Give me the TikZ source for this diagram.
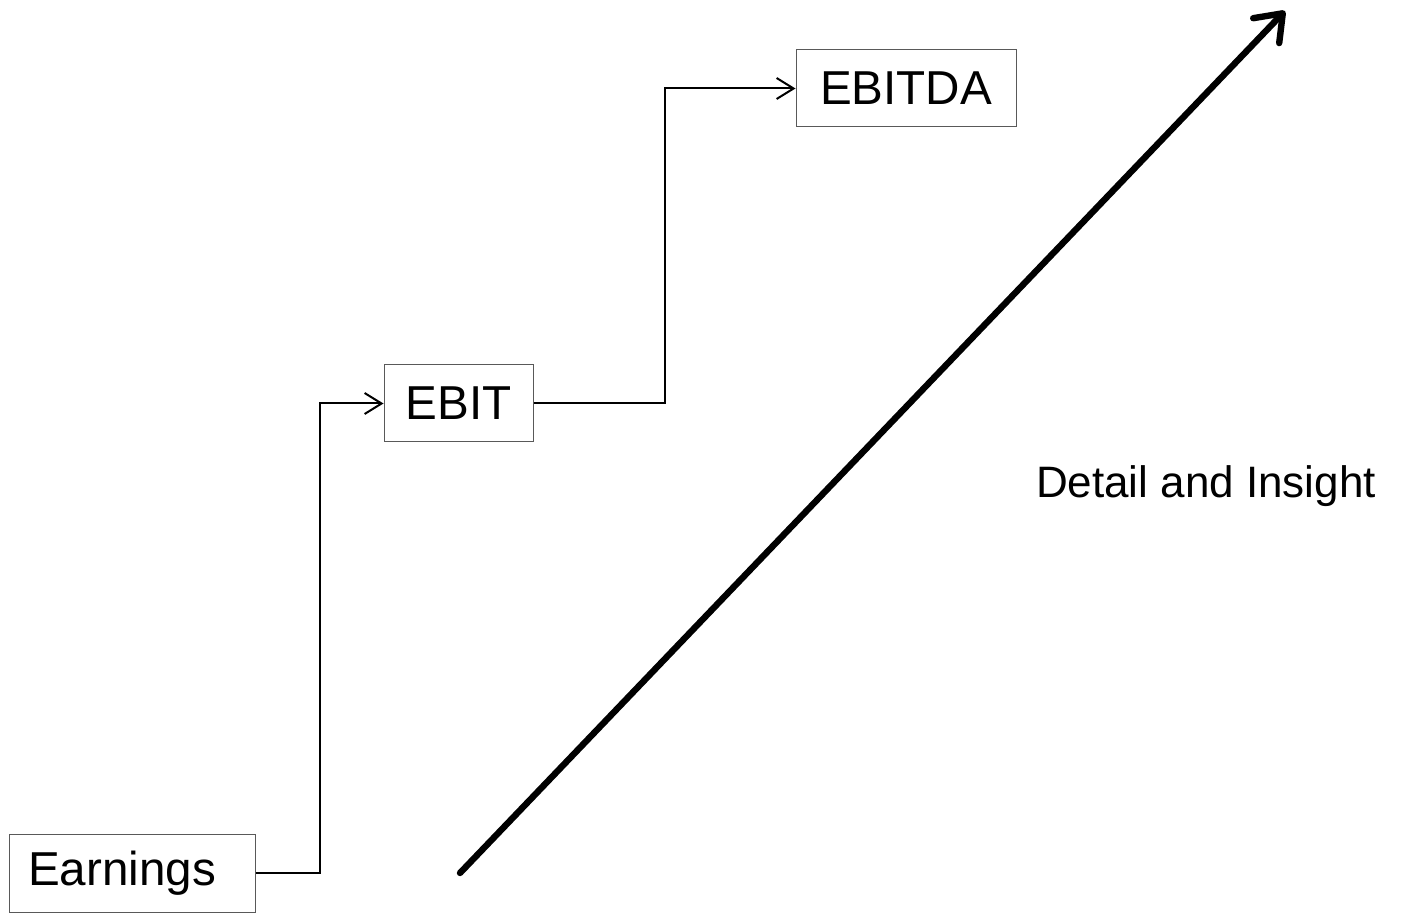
\documentclass[tikz,border=0pt]{standalone}
\usepackage{fontspec}
\setmainfont{Liberation Sans}
\usetikzlibrary{arrows.meta}
\begin{document}
\begin{tikzpicture}[x=0.5pt,y=-0.5pt,
  box/.style={draw=black!65,line width=0.5pt,fill=white,inner sep=0pt,
    font=\fontsize{23.8}{28}\selectfont},
  link/.style={line width=1pt,-{Straight Barb[length=8.5pt,width=10.5pt,line width=1pt]}},
  growth/.style={line width=3.2pt,line cap=round,
    -{Straight Barb[length=12pt,width=18pt,round]}}]
\useasboundingbox (0,0) rectangle (1414,914);
\node[box,minimum width=123pt,minimum height=39pt] (earn) at (132,873) {Earnings\kern10pt};
\node[box,minimum width=74.5pt,minimum height=38.5pt] (ebit) at (458.5,403.5) {EBIT};
\node[box,minimum width=110pt,minimum height=38.5pt] (ebitda) at (906,88.5) {EBITDA};
\node[font=\fontsize{22}{26}\selectfont] (detail) at (1206,486) {Detail and Insight};
\coordinate (s) at (460,873);
\coordinate (e) at (1285,11);
\draw[link] (earn.east) -| (320,403.5) -- (ebit.west);
\draw[link] (ebit.east) -| (665,88.5) -- (ebitda.west);
\draw[growth] (s) -- (e);
\end{tikzpicture}
\end{document}
